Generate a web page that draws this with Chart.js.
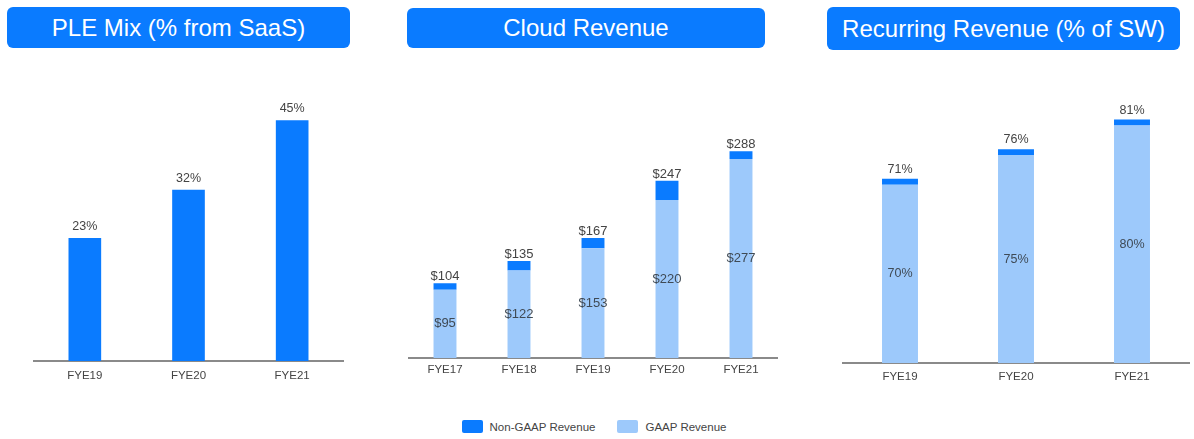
<!DOCTYPE html>
<html>
<head>
<meta charset="utf-8">
<script src="https://cdn.jsdelivr.net/npm/chart.js@4"></script>
<style>
  html, body { margin: 0; padding: 0; background: #fff; }
  body { width: 1194px; height: 439px; position: relative; overflow: hidden; font-family: 'Liberation Sans', Arial, sans-serif; }
  .title { position: absolute; background: #0a7bff; color: #fff; border-radius: 6px; font-size: 24px; display: flex; align-items: center; justify-content: center; }
  .box { position: absolute; }
  #legend { position: absolute; top: 420px; left: 0; width: 1188px; display: flex; justify-content: center; font-size: 11.5px; color: #444; }
  #legend span.item { display: flex; align-items: center; margin: 0 11px; }
  #legend span.sw { display: inline-block; width: 21px; height: 13px; margin-right: 7px; border-radius: 2px; }
</style>
</head>
<body>
<div class="title" style="left:7px;top:7px;width:343px;height:41px;">PLE Mix (% from SaaS)</div>
<div class="title" style="left:407px;top:8px;width:358px;height:40px;">Cloud Revenue</div>
<div class="title" style="left:827px;top:7px;width:353px;height:43px;">Recurring Revenue (% of SW)</div>

<div class="box" style="left:33px;top:60px;width:311px;height:340px;"><canvas id="pleChart"></canvas></div>
<div class="box" style="left:408px;top:60px;width:370px;height:337px;"><canvas id="cloudChart"></canvas></div>
<div class="box" style="left:842px;top:60px;width:348px;height:342px;"><canvas id="recurringChart"></canvas></div>
<div id="legend"></div>

<script>
// --- data ---
const pleYears = ["FYE19", "FYE20", "FYE21"];
const pleSaas = [23, 32, 45];

const cloudYears = ["FYE17", "FYE18", "FYE19", "FYE20", "FYE21"];
const cloudGaap = [95, 122, 153, 220, 277];
const cloudNonGaap = [9, 13, 14, 27, 11];
const cloudTotal = [104, 135, 167, 247, 288];

const recurYears = ["FYE19", "FYE20", "FYE21"];
const recurGaap = [70, 75, 80];
const recurNonGaap = [1, 1, 1];
const recurTotal = [71, 76, 81];

const DARK = "#0a7bff";
const LIGHT = "#9dc9fb";
const FONT = "'Liberation Sans', Arial, sans-serif";

Chart.defaults.font.family = FONT;
Chart.defaults.animation = false;

// draws value labels from the bar elements
function barLabels(items) {
    return {
        id: 'barLabels',
        afterDatasetsDraw(chart) {
            const ctx = chart.ctx;
            const bottom = chart.chartArea.bottom;
            ctx.save();
            ctx.textAlign = 'center';
            items.forEach(item => {
                const meta = chart.getDatasetMeta(item.dataset);
                ctx.font = item.size + "px " + FONT;
                ctx.fillStyle = item.color;
                meta.data.forEach((bar, i) => {
                    const text = item.prefix + item.values[i] + item.suffix;
                    if (item.place === 'top') {
                        ctx.textBaseline = 'bottom';
                        ctx.fillText(text, bar.x, bar.y - item.offset);
                    } else {
                        // the axis may not start at zero, so keep the base inside the plot
                        const base = Math.min(bar.base, bottom);
                        ctx.textBaseline = 'middle';
                        ctx.fillText(text, bar.x, (bar.y + base) / 2);
                    }
                });
            });
            ctx.restore();
        }
    };
}

function xAxis(pad) {
    return {
        stacked: true,
        offset: true,
        grid: { display: false, drawTicks: false },
        border: { display: true, color: "#8a8a8a", width: 2 },
        ticks: { color: "#444", padding: pad, font: { size: 11.5 } },
        afterFit: scale => { scale.height = 39; }
    };
}

function baseOptions(padTop, yMin, yMax, tickPad) {
    return {
        responsive: true,
        maintainAspectRatio: false,
        layout: { padding: { top: padTop, bottom: 0, left: 0, right: 0 } },
        plugins: { legend: { display: false }, tooltip: { enabled: false } },
        scales: {
            x: xAxis(tickPad),
            y: { display: false, stacked: true, min: yMin, max: yMax }
        }
    };
}

// PLE Mix
new Chart(document.getElementById('pleChart'), {
    type: 'bar',
    data: {
        labels: pleYears,
        datasets: [{
            label: "SaaS",
            data: pleSaas,
            backgroundColor: DARK,
            barPercentage: 0.315,
            categoryPercentage: 1
        }]
    },
    options: baseOptions(33.5, 0, 50, 8),
    plugins: [barLabels([
        { dataset: 0, values: pleSaas, prefix: "", suffix: "%", place: 'top', offset: 5, size: 12.5, color: "#444" }
    ])]
});

// Cloud Revenue
const cloudChart = new Chart(document.getElementById('cloudChart'), {
    type: 'bar',
    data: {
        labels: cloudYears,
        datasets: [{
            label: "GAAP Revenue",
            data: cloudGaap,
            backgroundColor: LIGHT,
            barPercentage: 0.31,
            categoryPercentage: 1
        }, {
            label: "Non-GAAP Revenue",
            data: cloudNonGaap,
            backgroundColor: DARK,
            barPercentage: 0.31,
            categoryPercentage: 1
        }]
    },
    options: baseOptions(46.7, 0, 350, 5),
    plugins: [barLabels([
        { dataset: 1, values: cloudTotal, prefix: "$", suffix: "", place: 'top', offset: 0, size: 13, color: "#444" },
        { dataset: 0, values: cloudGaap, prefix: "$", suffix: "", place: 'mid', offset: 0, size: 13, color: "#3f4a55" }
    ])]
});

// Recurring Revenue
new Chart(document.getElementById('recurringChart'), {
    type: 'bar',
    data: {
        labels: recurYears,
        datasets: [{
            label: "GAAP Revenue",
            data: recurGaap,
            backgroundColor: LIGHT,
            barPercentage: 0.31,
            categoryPercentage: 1
        }, {
            label: "Non-GAAP Revenue",
            data: recurNonGaap,
            backgroundColor: DARK,
            barPercentage: 0.31,
            categoryPercentage: 1
        }]
    },
    options: baseOptions(35.7, 40, 85, 7),
    plugins: [barLabels([
        { dataset: 1, values: recurTotal, prefix: "", suffix: "%", place: 'top', offset: 3, size: 12.5, color: "#444" },
        { dataset: 0, values: recurGaap, prefix: "", suffix: "%", place: 'mid', offset: 0, size: 12.5, color: "#3f4a55" }
    ])]
});

// shared legend, built from the cloud chart's datasets (top segment first)
const legendEl = document.getElementById('legend');
cloudChart.data.datasets.slice().reverse().forEach(ds => {
    const item = document.createElement('span');
    item.className = 'item';
    const sw = document.createElement('span');
    sw.className = 'sw';
    sw.style.background = ds.backgroundColor;
    item.appendChild(sw);
    item.appendChild(document.createTextNode(ds.label));
    legendEl.appendChild(item);
});
</script>
</body>
</html>
